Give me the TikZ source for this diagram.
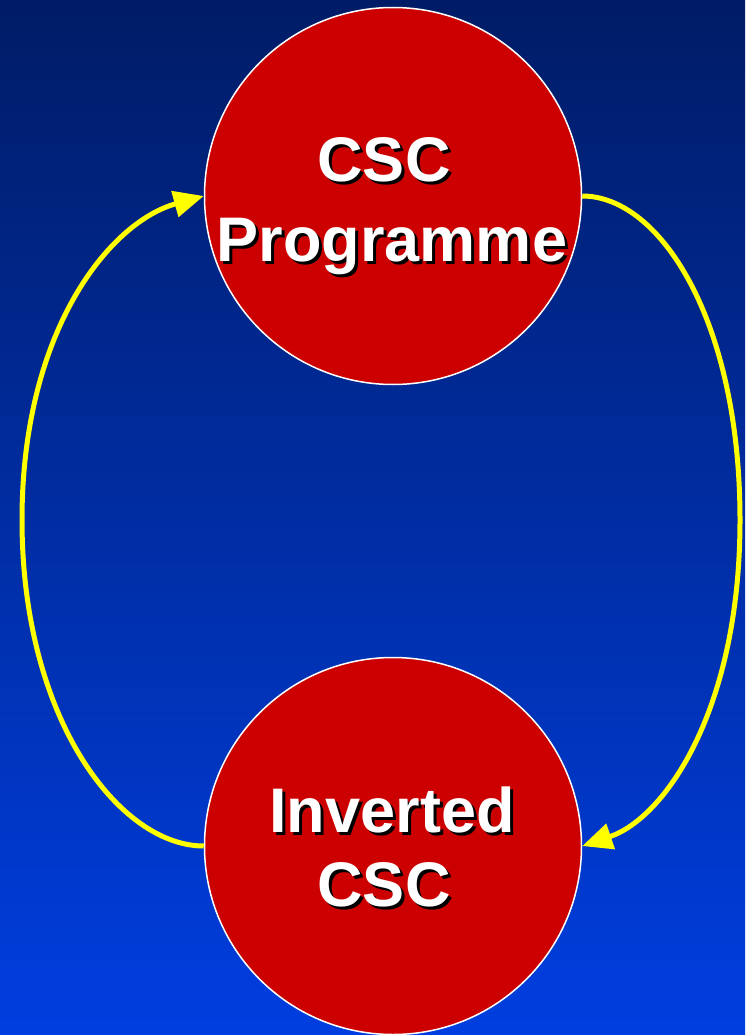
\documentclass[tikz,border=0pt]{standalone}
\usepackage{fontspec}
\setmainfont{Liberation Sans}
\usetikzlibrary{arrows.meta}
\definecolor{bgtop}{RGB}{0,28,102}
\definecolor{bgbot}{RGB}{0,62,224}
\definecolor{cred}{RGB}{204,0,0}
\definecolor{ayel}{RGB}{255,255,0}
\begin{document}
\begin{tikzpicture}[x=1pt,y=-1pt,
  circ/.style={circle, fill=cred, draw=white, line width=1.5pt, minimum size=377pt, inner sep=0pt},
  lbl/.style={text=white, font=\bfseries\fontsize{63}{79}\selectfont, anchor=base, inner sep=0pt},
  shd/.style={lbl, text=black},
  conn/.style={draw=ayel, line width=5pt, -{Triangle[length=30pt,width=26pt]}}]
\useasboundingbox (0,0) rectangle (745,1035);
\shade[top color=bgtop, bottom color=bgbot] (0,0) rectangle (745,1035);
\node[circ] (top) at (393,196) {};
\node[circ] (bot) at (393,846) {};
\draw[conn] (bot.west) .. controls (120,846) and (22,720) .. (22,520)
  .. controls (22,330) and (110,222) .. (top.west);
\draw[conn] (top.east) .. controls (660,196) and (740,320) .. (740,520)
  .. controls (740,710) and (665,818) .. (bot.east);
\node[shd] (t1s) at (387,185) {CSC};
\node[lbl] (t1) at (384,182) {CSC};
\node[shd] (t2s) at (395,264) {Programme};
\node[lbl] (t2) at (392,261) {Programme};
\node[shd] (b1s) at (395,835) {Inverted};
\node[lbl] (b1) at (392,832) {Inverted};
\node[shd] (b2s) at (387,909) {CSC};
\node[lbl] (b2) at (384,906) {CSC};
\end{tikzpicture}
\end{document}
